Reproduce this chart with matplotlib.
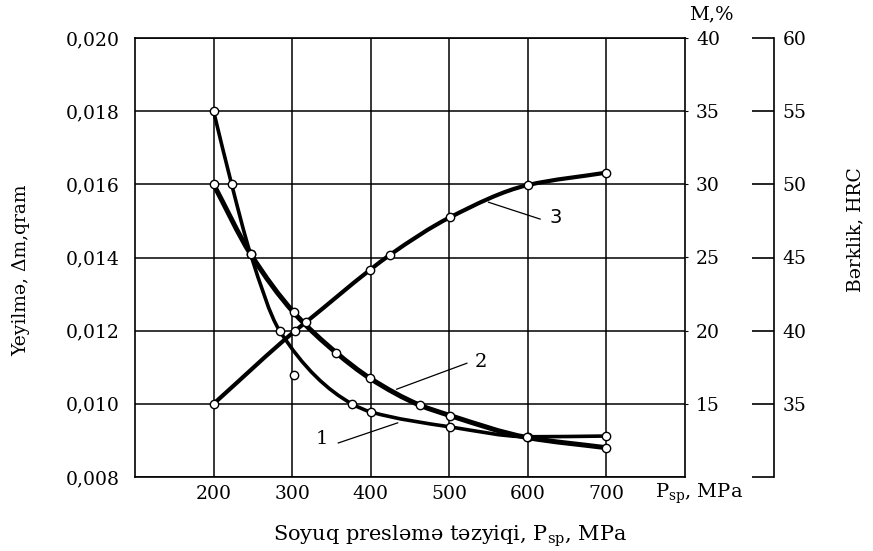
import numpy as np
import matplotlib
matplotlib.use("Agg")
import matplotlib.pyplot as plt
from matplotlib.path import Path
from matplotlib.patches import PathPatch
from matplotlib.ticker import FuncFormatter

plt.rcParams['font.family'] = ['DejaVu Serif']
plt.rcParams['mathtext.fontset'] = 'dejavuserif'

# pressure, MPa
p1 = [200, 223, 247, 284, 376, 400, 501, 600, 700]
wear = [0.018, 0.016, 0.0141, 0.0120, 0.0100, 0.00978, 0.00937, 0.0091, 0.00912]   # curve 1, left axis

p2 = [200, 247, 302, 356, 399, 463, 501, 599, 700]
porosity = [30, 25.25, 21.25, 18.5, 16.75, 14.9, 14.2, 12.7, 12.0]   # curve 2, M,%

p3 = [200, 304, 318, 399, 425, 501, 600, 700]
hrc = [35, 40, 40.6, 44.15, 45.2, 47.75, 49.95, 50.8]   # curve 3, HRC

# lone measured point
p_extra = [302]
wear_extra = [0.0108]

x_ticks = [200, 300, 400, 500, 600, 700]
wear_ticks = [0.008, 0.010, 0.012, 0.014, 0.016, 0.018, 0.020]
m_ticks = [15, 20, 25, 30, 35, 40]
hrc_ticks = [30, 35, 40, 45, 50, 55, 60]


def smooth_path(xs, ys):
    # monotone cubic hermite (pchip style) through the points, as bezier segments
    x = np.asarray(xs, float)
    y = np.asarray(ys, float)
    h = np.diff(x)
    d = np.diff(y) / h
    m = np.zeros_like(y)
    for k in range(1, len(x) - 1):
        if d[k - 1] * d[k] > 0:
            w1 = 2 * h[k] + h[k - 1]
            w2 = h[k] + 2 * h[k - 1]
            m[k] = (w1 + w2) / (w1 / d[k - 1] + w2 / d[k])
    m[0] = d[0]
    m[-1] = d[-1]
    verts = [(x[0], y[0])]
    codes = [Path.MOVETO]
    for k in range(len(h)):
        verts += [(x[k] + h[k] / 3, y[k] + m[k] * h[k] / 3),
                  (x[k + 1] - h[k] / 3, y[k + 1] - m[k + 1] * h[k] / 3),
                  (x[k + 1], y[k + 1])]
        codes += [Path.CURVE4] * 3
    return Path(verts, codes)


W, H = 873, 551
fig = plt.figure(figsize=(W / 100, H / 100), dpi=100)
ax = fig.add_axes([135 / W, 1 - 477 / H, 550 / W, 439 / H])
ax.set_xlim(100, 800)
ax.set_ylim(0.008, 0.020)
ax.set_xticks(x_ticks)
ax.set_yticks(wear_ticks)
ax.yaxis.set_major_formatter(FuncFormatter(lambda v, pos: f"{v:.3f}".replace('.', ',')))
ax.grid(True, color='black', lw=1.1)
ax.tick_params(axis='both', length=0, labelsize=13.5)
ax.tick_params(axis='y', pad=11)
ax.tick_params(axis='x', pad=6)
for s in ax.spines.values():
    s.set_linewidth(1.2)
ax.set_ylabel("Yeyilmə, Δm,qram", fontsize=13.5)
ax.yaxis.set_label_coords(-0.19, 0.47)

ax2 = ax.twinx()
ax2.set_ylim(10, 40)
ax2.set_yticks(m_ticks)
ax2.tick_params(axis='y', length=2, labelsize=13.5, pad=6)
for s in ax2.spines.values():
    s.set_visible(False)

ax3 = ax.twinx()
ax3.set_ylim(30, 60)
ax3.spines['right'].set_position(('axes', 1.162))
ax3.spines['right'].set_bounds(30, 60)
ax3.spines['right'].set_linewidth(1.2)
for k in ['left', 'top', 'bottom']:
    ax3.spines[k].set_visible(False)
ax3.set_yticks(hrc_ticks)
ax3.set_yticklabels([''] + [str(t) for t in hrc_ticks[1:]])
ax3.tick_params(axis='y', direction='in', length=16, width=1.2, labelsize=13.5, pad=6)

# curves
ax.add_patch(PathPatch(smooth_path(p1, wear), fill=False, lw=2.6, ec='black', zorder=3))
ax2.add_patch(PathPatch(smooth_path(p2, porosity), fill=False, lw=3.6, ec='black', zorder=3))
ax3.add_patch(PathPatch(smooth_path(p3, hrc), fill=False, lw=3.0, ec='black', zorder=3))

mk = dict(ls='none', marker='o', ms=6, mfc='white', mec='black', mew=1, zorder=5, clip_on=False)
ax.plot(p1, wear, **mk)
ax.plot(p_extra, wear_extra, **mk)
ax2.plot(p2, porosity, **mk)
ax3.plot(p3, hrc, **mk)

# curve numbers with leader lines
ax.plot([358.7, 434.3], [0.00893, 0.00948], color='black', lw=0.9)
ax.text(338, 0.00904, "1", fontsize=14, ha='center', va='center')
ax.plot([522.4, 433], [0.01111, 0.0104], color='black', lw=0.9)
ax.text(540, 0.01114, "2", fontsize=14, ha='center', va='center')
ax.plot([615.6, 550], [0.01505, 0.01551], color='black', lw=0.9)
ax.text(635, 0.01508, "3", fontsize=14, ha='center', va='center', family='DejaVu Sans')

fig.text(711 / W, 1 - 14 / H, "M,%", fontsize=14, ha='center', va='center')
fig.text(855 / W, 1 - 230 / H, "Bərklik, HRC", fontsize=13.5, ha='center', va='center', rotation=90)
fig.text(655 / W, 1 - 494 / H, r"P$_{\mathrm{sp}}$, MPa", fontsize=14, ha='left', va='center')
fig.text(450 / W, 1 - 536 / H, r"Soyuq presləmə təzyiqi, P$_{\mathrm{sp}}$, MPa", fontsize=15,
         ha='center', va='center')

fig.savefig("out.png", dpi=100)
